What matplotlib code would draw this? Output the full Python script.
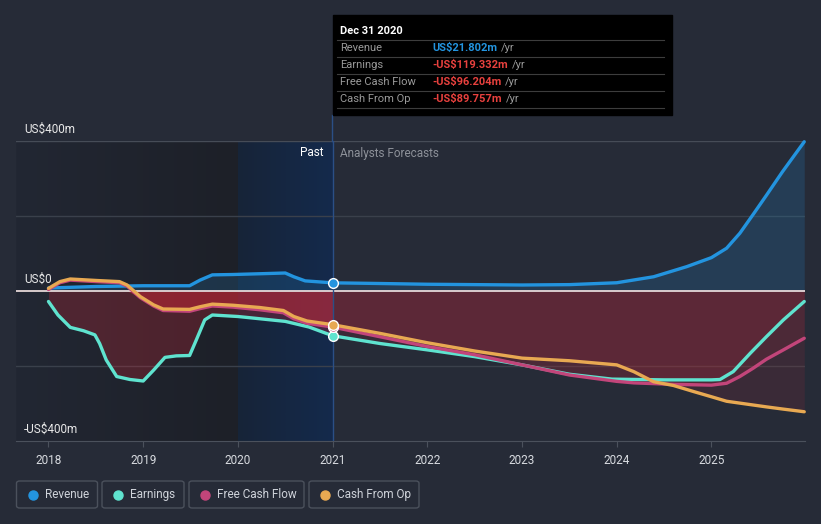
import matplotlib
matplotlib.use("Agg")
import matplotlib.pyplot as plt
from matplotlib.patches import FancyBboxPatch, Rectangle
from matplotlib.lines import Line2D
import numpy as np

plt.rcParams['font.family'] = ['Roboto', 'DejaVu Sans']

# --- data (US$m) ---
rev_x = [2018.0, 2018.25, 2018.5, 2018.75, 2019.0, 2019.25, 2019.49, 2019.6, 2019.73, 2019.95,
         2020.23, 2020.5, 2020.59, 2020.71, 2021.0, 2021.5, 2022.0, 2022.5, 2023.0, 2023.5,
         2024.0, 2024.39, 2024.74, 2025.0, 2025.16, 2025.3, 2025.44, 2025.58, 2025.75, 2025.98]
revenue = [8, 10, 12, 13, 14, 14, 14, 29, 43, 44,
           46, 48, 38, 27, 21.8, 20, 18, 17, 16, 17,
           22, 38, 65, 89, 114, 154, 204, 255, 318, 398]

earn_x = [2018.0, 2018.1, 2018.23, 2018.37, 2018.49, 2018.54, 2018.61, 2018.72, 2018.86, 2019.0,
          2019.11, 2019.23, 2019.35, 2019.49, 2019.56, 2019.65, 2019.73, 2020.0, 2020.5, 2020.75,
          2021.0, 2021.5, 2022.0, 2022.5, 2023.0, 2023.5, 2023.95, 2024.5, 2025.0, 2025.09,
          2025.23, 2025.41, 2025.58, 2025.76, 2025.98]
earnings = [-28, -64, -97, -106, -117, -140, -184, -228, -236, -240,
            -211, -177, -173, -172, -131, -77, -64, -68, -81, -96,
            -119.3, -140, -157, -175, -197, -222, -235, -237, -237, -236,
            -215, -166, -122, -77, -28]

cash_x = [2018.0, 2018.12, 2018.23, 2018.51, 2018.75, 2018.83, 2018.97, 2019.11, 2019.21, 2019.49,
          2019.6, 2019.73, 2019.95, 2020.23, 2020.48, 2020.59, 2020.73, 2021.0, 2021.5, 2022.0,
          2022.5, 2023.0, 2023.5, 2024.0, 2024.18, 2024.39, 2024.6, 2024.81, 2025.0, 2025.16,
          2025.3, 2025.44, 2025.58, 2025.76, 2025.98]
fcf = [4, 22, 29, 25, 22, 13, -18, -40, -52, -54,
       -47, -40, -43, -50, -58, -74, -86, -96.2, -122, -148,
       -170, -197, -224, -241, -245, -247, -249, -250, -251, -246,
       -228, -206, -182, -157, -126]
cfo = [7, 25, 32, 28, 25, 16, -15, -37, -48, -49,
       -42, -35, -38, -44, -52, -68, -80, -89.8, -113, -138,
       -160, -179, -186, -197, -215, -242, -252, -268, -282, -294,
       -299, -304, -309, -315, -322]

years = [2018, 2019, 2020, 2021, 2022, 2023, 2024, 2025]
past_end = 2021.0

C_REV = '#2394df'
C_EARN = '#5fe3cf'
C_FCF = '#c2457a'
C_CFO = '#e8a952'
BG = '#262b37'

W, H = 821, 524
fig = plt.figure(figsize=(W / 100, H / 100), dpi=100, facecolor=BG)


def fx(px):
    return px / W


def fy(py):
    return 1 - py / H


ax = fig.add_axes([fx(16), fy(441), fx(805) - fx(16), fy(141) - fy(441)])
ax.set_facecolor(BG)
x0, x1 = 2017.657, 2025.988
ax.set_xlim(x0, x1)
ax.set_ylim(-400, 400)

# past shading
grad = np.linspace(0, 1, 200).reshape(1, -1)
dark = np.array([[34, 39, 51], [29, 32, 40]]) / 255
cols = dark[0] + (dark[1] - dark[0]) * grad[..., None]
ax.imshow(cols, extent=[x0, 2020.0, -400, 400], aspect='auto', zorder=0)
blue = np.array([[23, 36, 56], [20, 42, 76]]) / 255
cols = blue[0] + (blue[1] - blue[0]) * grad[..., None]
ax.imshow(cols, extent=[2020.0, past_end, -400, 400], aspect='auto', zorder=0)

for g in [200, -200]:
    ax.axhline(g, color='#3a404b', lw=1, zorder=1)
ax.axhline(400, color='#464c57', lw=1, zorder=1)

# fills
ax.fill_between(rev_x, revenue, 0, color=C_REV, alpha=0.18, lw=0, zorder=2)
for xs, ys in [(earn_x, earnings), (cash_x, fcf), (cash_x, cfo)]:
    xs = np.array(xs)
    ys = np.minimum(np.array(ys), 0)
    ax.fill_between(xs, ys, 0, where=xs <= past_end, color='#dc2837', alpha=0.25, lw=0, zorder=2)
    ax.fill_between(xs, ys, 0, where=xs >= past_end, color='#dc2837', alpha=0.115, lw=0, zorder=2)

ax.axhline(0, color='#e6d8d8', lw=1.3, zorder=3)

# lines
kw = dict(lw=2.4, solid_capstyle='round', solid_joinstyle='round', zorder=4, clip_on=False)
ax.plot(rev_x, revenue, color=C_REV, **kw)
ax.plot(earn_x, earnings, color=C_EARN, **kw)
ax.plot(cash_x, fcf, color=C_FCF, **kw)
ax.plot(cash_x, cfo, color=C_CFO, **kw)

# markers at the highlighted date
ax.axvline(past_end, color='#2b4f86', lw=1, zorder=3)
for xs, ys, c in [(rev_x, revenue, C_REV), (earn_x, earnings, C_EARN),
                  (cash_x, fcf, C_FCF), (cash_x, cfo, C_CFO)]:
    i = xs.index(past_end)
    ax.plot(xs[i], ys[i], 'o', ms=7, mfc=c, mec='white', mew=1, zorder=5)

for s in ['top', 'left', 'right']:
    ax.spines[s].set_visible(False)
ax.spines['bottom'].set_color('#4b515c')
ax.set_yticks([])
ax.set_xticks(years)
ax.set_xticklabels([str(y) for y in years])
ax.tick_params(axis='x', colors='#4b515c', labelcolor='#d8dbe0', length=4, pad=5, labelsize=8.5)

# y labels
for v, py in [('US$400m', 129), ('US$0', 279), ('-US$400m', 429)]:
    fig.text(fx(24), fy(py), v, color='#e8e8e8', fontsize=8.5, va='center', ha='left')

fig.text(fx(323), fy(153), 'Past', color='#ffffff', fontsize=8.5, va='center', ha='right')
fig.text(fx(340), fy(153), 'Analysts Forecasts', color='#8d9199', fontsize=8.5, va='center', ha='left')

# vertical line up to tooltip
fig.add_artist(Line2D([fx(332.3), fx(332.3)], [fy(115), fy(141)], color='#2b4f86', lw=1))

# tooltip
fig.add_artist(Rectangle((fx(333), fy(115)), fx(672) - fx(333), fy(15) - fy(115),
                         color='#000000', zorder=10))
fig.text(fx(340), fy(31), 'Dec 31 2020', color='white', fontsize=8, fontweight='bold',
         va='center', zorder=11)
rows = [('Revenue', 'US$21.802m', C_REV), ('Earnings', '-US$119.332m', '#e8413e'),
        ('Free Cash Flow', '-US$96.204m', '#e8413e'), ('Cash From Op', '-US$89.757m', '#e8413e')]
fig.canvas.draw()
renderer = fig.canvas.get_renderer()
for k, (lab, val, c) in enumerate(rows):
    ly = 40 + 17 * k
    fig.add_artist(Line2D([fx(337), fx(664)], [fy(ly), fy(ly)], color='#3d3d3d', lw=0.8, zorder=11))
    ty = ly + 8
    fig.text(fx(340), fy(ty), lab, color='#9a9a9a', fontsize=8, va='center', zorder=11)
    t = fig.text(fx(432), fy(ty), val, color=c, fontsize=8, fontweight='bold', va='center', zorder=11)
    bb = t.get_window_extent(renderer=renderer)
    fig.text(bb.x1 / W + fx(4), fy(ty), '/yr', color='#9a9a9a', fontsize=8, va='center', zorder=11)
fig.add_artist(Line2D([fx(337), fx(664)], [fy(108), fy(108)], color='#3d3d3d', lw=0.8, zorder=11))

# legend
items = [('Revenue', C_REV, 16.5, 97.5), ('Earnings', C_EARN, 102, 184),
         ('Free Cash Flow', C_FCF, 189, 304), ('Cash From Op', C_CFO, 309, 419)]
for lab, c, a, b in items:
    fig.add_artist(FancyBboxPatch((fx(a), fy(508)), fx(b) - fx(a), fy(481) - fy(508),
                                  boxstyle='round,pad=0,rounding_size=0.004',
                                  fc='none', ec='#4b515c', lw=1))
    fig.add_artist(Line2D([fx(a + 16)], [fy(494.5)], marker='o', ms=6.5, color=c, mec=c))
    fig.text(fx(a + 28), fy(494.5), lab, color='#cfd3da', fontsize=8.5, va='center')

fig.savefig('out.png', dpi=100, facecolor=BG)
